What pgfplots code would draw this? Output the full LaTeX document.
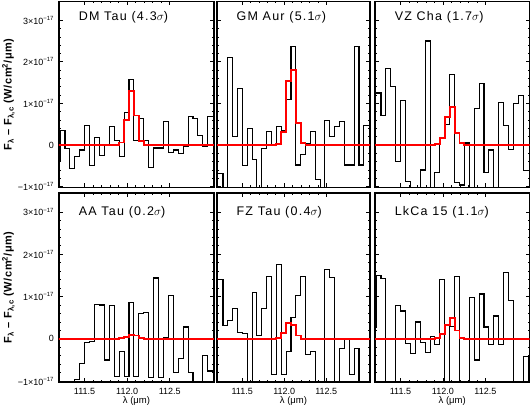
\documentclass[border=0pt]{standalone}
\usepackage{pgfplots}
\pgfplotsset{compat=1.18}
\usepackage{pgfplotstable}
\usepackage{fontspec}
\setmainfont{Liberation Sans}

% bin left edges (micron) and fluxes in units of 1e-17 W/cm2/um
% columns: b = data, r = model line
\pgfplotstableread{
x        dmb    dmr   gmb    gmr   vzb    vzr
111.155 -0.38   0    -0.69   0     1.25   0
111.213  0.36   0    -0.69   0     1.25   0
111.271 -0.08   0    -1.50   0     0.71   0
111.328 -0.56   0     2.10   0     1.84   0
111.386 -0.28   0     0.20   0     1.41   0
111.444 -0.12   0     1.35   0    -0.40   0
111.502  0.46   0    -0.49   0     1.07   0
111.560 -0.49   0     0.39   0    -0.88   0
111.617  0.19   0    -0.34   0    -1.50   0
111.675 -0.25   0    -1.50   0    -1.50   0
111.733  0.02   0    -0.08   0    -0.60   0
111.791  0.44   0     0.33   0     2.50   0
111.849  0.10   0     0.02   0    -1.50   0
111.906 -0.28   0.06  0.44   0.03 -0.65   0.02
111.964  0.78   0.60  0.35   0.32  0.15   0.17
112.022  1.57   1.29  1.10   1.53  0.50   0.67
112.080  0.10   0.71  2.37   1.81  1.69   0.91
112.138  0.63   0.10 -0.48   0.53 -0.90   0.28
112.195  0.10   0    -0.23   0.04 -0.96   0.04
112.253 -0.55   0     0.04   0     0.05   0
112.311 -0.07   0     0.32   0    -1.50   0
112.369 -0.07   0    -0.83   0     0.87   0
112.427  0.57   0    -1.50   0     1.48   0
112.484 -0.17   0     0.58   0    -0.65   0
112.542 -0.12   0     0.21   0    -0.12   0
112.600 -0.20   0     0.44   0    -1.50   0
112.658 -0.04   0     0.57   0     1.03   0
112.716  0.68   0    -0.48   0     0.46   0
112.773  0.63   0    -0.48   0    -0.10   0
112.831  0.24   0     2.37   0     1.00   0
112.889 -0.04   0    -0.48   0     1.20   0
112.947  0.68   0     0.48   0    -0.62   0
113.005  0.68   0     0.48   0    -0.62   0
113.062  0.68   0     0.48   0    -0.62   0
}\toprow

\pgfplotstableread{
x        aab    aar   fzb    fzr   lkb    lkr
111.155 -1.50   0     1.40   0     0.26   0
111.213 -1.50   0     1.40   0     1.50   0
111.271 -1.50   0     0.32   0     1.42   0
111.328 -1.50   0     0.44   0    -1.50   0
111.386 -0.96   0     0.72   0    -1.50   0
111.444 -0.58   0     0.16   0     0.78   0
111.502 -0.08   0     0.12   0     0.66   0
111.560 -0.06   0    -1.50   0    -0.10   0
111.617  0.82   0     1.10   0    -0.34   0
111.675  0.80   0     0.08   0     0.40   0
111.733 -0.50   0     0.72   0    -0.08   0
111.791  0.78   0     1.48   0    -0.32   0
111.849 -0.90   0    -0.84   0     0.06   0
111.906 -0.30   0.02  1.76   0.02 -0.14   0.02
111.964 -0.90   0.04 -0.84   0.14  1.40   0.12
112.022  0.86   0.10 -0.30   0.38 -1.50   0.32
112.080 -0.90   0.08  0.50   0.32  0.30   0.50
112.138  0.60   0.02  1.02   0.08  1.48   0.20
112.195  0.62   0     1.48   0    -1.50   0.02
112.253 -0.92   0    -0.36   0    -1.50   0
112.311  1.44   0    -0.30   0     0.98   0
112.369 -0.92   0    -1.50   0    -0.50   0
112.427  0.04   0    -1.50   0     1.06   0
112.484  1.02   0     1.64   0     0.28   0
112.542 -0.80   0     1.46   0    -0.14   0
112.600 -0.46   0    -1.50   0     0.54   0
112.658  0.28   0    -0.22   0    -0.14   0
112.716 -0.80   0     0.00   0     1.56   0
112.773 -1.50   0    -0.84   0     0.90   0
112.831 -1.50   0    -0.22   0    -1.50   0
112.889 -0.40   0    -1.50   0    -1.00   0
112.947 -0.76   0    -1.50   0    -0.42   0
113.005 -0.76   0    -1.50   0    -1.50   0
113.062 -0.76   0    -1.50   0    -1.50   0
}\botrow

\newcommand{\ttl}{\fontsize{12.5}{14}\selectfont\addfontfeature{LetterSpace=10}}
\newcommand{\lab}{\fontsize{9}{10}\selectfont}

\pgfplotsset{
  panel/.style={
    scale only axis, anchor=south west, clip mode=individual,
    xmin=111.2, xmax=113.02, ymin=-1.02, ymax=3.45,
    xtick={111.5,112,112.5}, minor x tick num=4,
    ytick={-1,0,1,2,3}, minor y tick num=4,
    tick align=inside,
    major tick length=4pt, minor tick length=2pt,
    axis line style={line width=1.5pt},
    every tick/.style={black, line width=0.7pt},
    xticklabels={}, yticklabels={},
    xticklabel style={font=\lab, yshift=-3pt},
    yticklabel style={font=\lab, xshift=-1.5pt},
  },
  toppanel/.style={panel, height=186pt},
  botpanel/.style={panel, height=189pt,
    xticklabels={111.5,112.0,112.5}},
  leftcol/.style={width=155pt,
    yticklabels={−1×10\textsuperscript{−17},0,1×10\textsuperscript{−17},2×10\textsuperscript{−17},3×10\textsuperscript{−17}}},
  dat/.style={black, line width=1.1pt, const plot mark left},
  mod/.style={red, line width=1.8pt, const plot mark left},
}

\newcommand{\ylab}{\node[rotate=90, font=\fontsize{11}{12}\selectfont\bfseries\addfontfeature{LetterSpace=5}] at (rel axis cs:-0.325,0.5)
  {F\textsubscript{λ} – F\textsubscript{λ,c} (W/cm\textsuperscript{2}/μm)};}
\newcommand{\xlab}{\node[font=\fontsize{9.5}{11}\selectfont] at (rel axis cs:0.5,0) [yshift=-19.5pt] {λ (μm)};}

\begin{document}
\begin{tikzpicture}
\path[use as bounding box] (0,0) rectangle (531pt,409pt);

\begin{axis}[toppanel, leftcol, at={(59pt,221.5pt)}]
\addplot[dat] table[x=x,y=dmb]{\toprow};
\addplot[mod] table[x=x,y=dmr]{\toprow};
\node[anchor=west, font=\ttl] at (rel axis cs:0.105,0.915) {DM Tau (4.3$\sigma$)};
\ylab
\end{axis}

\begin{axis}[toppanel, width=153pt, at={(217pt,221.5pt)}]
\addplot[dat] table[x=x,y=gmb]{\toprow};
\addplot[mod] table[x=x,y=gmr]{\toprow};
\node[anchor=west, font=\ttl] at (rel axis cs:0.105,0.915) {GM Aur (5.1$\sigma$)};
\end{axis}

\begin{axis}[toppanel, width=154.5pt, at={(375pt,221.5pt)}]
\addplot[dat] table[x=x,y=vzb]{\toprow};
\addplot[mod] table[x=x,y=vzr]{\toprow};
\node[anchor=west, font=\ttl] at (rel axis cs:0.105,0.915) {VZ Cha (1.7$\sigma$)};
\end{axis}

\begin{axis}[botpanel, leftcol, at={(59pt,27pt)}]
\addplot[dat] table[x=x,y=aab]{\botrow};
\addplot[mod] table[x=x,y=aar]{\botrow};
\node[anchor=west, font=\ttl] at (rel axis cs:0.105,0.9) {AA Tau (0.2$\sigma$)};
\ylab
\xlab
\end{axis}

\begin{axis}[botpanel, width=153pt, at={(217pt,27pt)}]
\addplot[dat] table[x=x,y=fzb]{\botrow};
\addplot[mod] table[x=x,y=fzr]{\botrow};
\node[anchor=west, font=\ttl] at (rel axis cs:0.105,0.9) {FZ Tau (0.4$\sigma$)};
\xlab
\end{axis}

\begin{axis}[botpanel, width=154.5pt, at={(375pt,27pt)}]
\addplot[dat] table[x=x,y=lkb]{\botrow};
\addplot[mod] table[x=x,y=lkr]{\botrow};
\node[anchor=west, font=\ttl] at (rel axis cs:0.105,0.9) {LkCa 15 (1.1$\sigma$)};
\xlab
\end{axis}
\end{tikzpicture}
\end{document}
